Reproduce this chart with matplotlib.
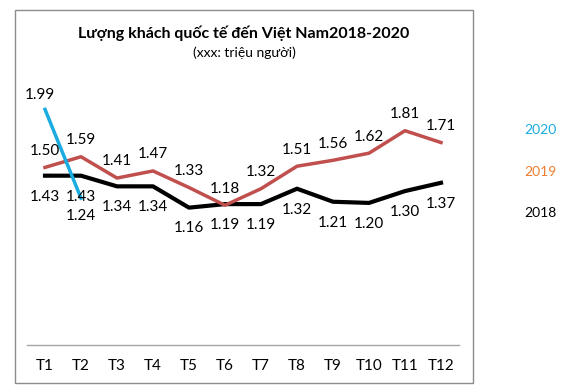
import matplotlib
matplotlib.use("Agg")
import matplotlib.pyplot as plt
from matplotlib.patches import Rectangle

months = ["T1", "T2", "T3", "T4", "T5", "T6", "T7", "T8", "T9", "T10", "T11", "T12"]
v2018 = [1.43, 1.43, 1.34, 1.34, 1.16, 1.19, 1.19, 1.32, 1.21, 1.20, 1.30, 1.37]
v2019 = [1.50, 1.59, 1.41, 1.47, 1.33, 1.18, 1.32, 1.51, 1.56, 1.62, 1.81, 1.71]
v2020 = [1.99, 1.24]
series_names = ["2020", "2019", "2018"]

plt.rcParams['font.family'] = ['Lato', 'DejaVu Sans']

W, H = 563, 389
fig = plt.figure(figsize=(W / 100, H / 100), dpi=100)
fig.patch.set_facecolor("white")

# outer chart border
fig.patches.append(Rectangle((15 / W, 1 - 383 / H), (473 - 15) / W, (383 - 10) / H,
                             transform=fig.transFigure, fill=False,
                             edgecolor="#8c8c8c", linewidth=1.0))

ax = fig.add_axes([27 / W, 1 - 345 / H, (459 - 27) / W, (345 - 49) / H])
ax.set_xlim(0, 12)
ax.set_ylim(0, 2.5)
for s in ["top", "right", "left"]:
    ax.spines[s].set_visible(False)
ax.spines["bottom"].set_color("#a6a6a6")
ax.spines["bottom"].set_linewidth(1.0)
ax.set_yticks([])
x = [i + 0.5 for i in range(len(months))]
ax.set_xticks(x)
ax.set_xticklabels(months, fontsize=11)
ax.tick_params(axis="x", length=0, pad=10)

c18, c19, c20 = "#000000", "#c0504d", "#1aace0"
ax.plot(x, v2018, color=c18, linewidth=3.0)
ax.plot(x, v2019, color=c19, linewidth=2.5)
ax.plot(x[:len(v2020)], v2020, color=c20, linewidth=2.5)

fs = 11
for xi, v in zip(x, v2018):
    ax.annotate(f"{v:.2f}", (xi, v), xytext=(0, -15), textcoords="offset points",
                ha="center", va="center", fontsize=fs, color="#000000")
for xi, v in zip(x, v2019):
    ax.annotate(f"{v:.2f}", (xi, v), xytext=(0, 12), textcoords="offset points",
                ha="center", va="center", fontsize=fs, color="#000000")
offs20 = [(-4, 10), (0, -13)]
for xi, v, o in zip(x, v2020, offs20):
    ax.annotate(f"{v:.2f}", (xi, v), xytext=o, textcoords="offset points",
                ha="center", va="center", fontsize=fs, color="#000000")

fig.text(244 / W, 1 - 33 / H, "Lượng khách quốc tế đến Việt Nam2018-2020",
         ha="center", va="center", fontsize=11.5, fontweight="bold")
fig.text(244 / W, 1 - 53 / H, "(xxx: triệu người)", ha="center", va="center", fontsize=10)

leg_colors = ["#1aace0", "#ed7d31", "#000000"]
leg_y = [130, 172, 213]
for name, col, yy in zip(series_names, leg_colors, leg_y):
    fig.text(540 / W, 1 - yy / H, name, ha="center", va="center", fontsize=10, color=col)

fig.savefig("out.png", dpi=100, facecolor="white")
